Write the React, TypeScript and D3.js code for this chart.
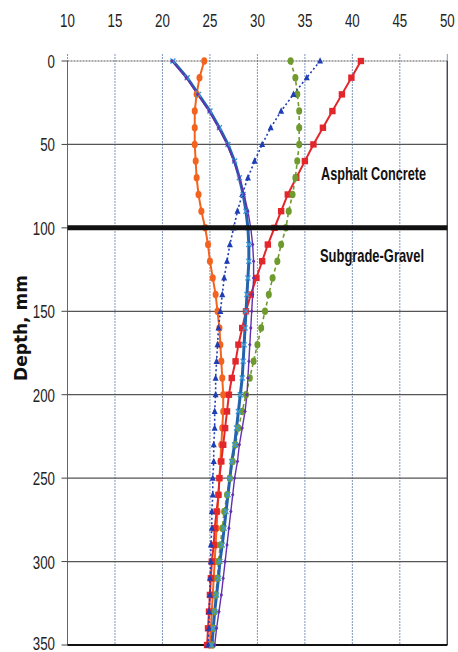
import React, { useLayoutEffect, useRef, useState } from "react";
import * as d3 from "d3";

const depths = [0,10,20,30,40,50,60,70,80,90,100,110,120,130,140,150,160,170,180,190,200,210,220,230,240,250,260,270,280,290,300,310,320,330,340,350];

const redSeries = [40.9,39.9,38.9,37.9,36.9,35.9,35.0,34.1,33.2,32.5,31.8,31.1,30.5,29.9,29.3,28.8,28.4,28.0,27.7,27.3,27.0,26.8,26.6,26.4,26.2,26.0,25.9,25.7,25.5,25.4,25.2,25.1,25.0,24.9,24.8,24.7];
const orangeSeries = [24.4,23.9,23.6,23.4,23.4,23.4,23.5,23.6,23.8,24.1,24.5,24.8,25.0,25.3,25.6,25.8,26.0,26.1,26.2,26.3,26.4,26.4,26.3,26.2,26.1,26.0,25.9,25.8,25.7,25.6,25.5,25.4,25.3,25.2,25.1,25.0];
const greenSeries = [33.5,34.0,34.2,34.4,34.4,34.4,34.2,34.0,33.7,33.3,33.0,32.5,32.1,31.6,31.2,30.8,30.4,30.0,29.6,29.2,28.8,28.4,28.0,27.7,27.4,27.1,26.8,26.5,26.3,26.1,25.9,25.8,25.6,25.5,25.4,25.3];
const blueDashSeries = [36.6,35.2,33.8,32.5,31.4,30.5,29.7,29.0,28.4,27.9,27.5,27.1,26.8,26.5,26.3,26.1,25.9,25.8,25.7,25.6,25.6,25.5,25.5,25.4,25.4,25.3,25.3,25.2,25.2,25.1,25.1,25.0,25.0,24.9,24.9,24.8];
const steelSeries = [21.1,22.6,23.8,25.0,26.0,26.9,27.6,28.1,28.5,28.8,29.0,29.1,29.1,29.0,28.9,28.8,28.7,28.6,28.5,28.4,28.2,28.0,27.8,27.6,27.3,27.1,26.9,26.7,26.5,26.3,26.05,25.9,25.7,25.5,25.35,25.2];
const purpleSeries = [21.0,22.5,23.7,24.9,25.9,26.8,27.5,28.1,28.6,29.0,29.3,29.5,29.6,29.6,29.5,29.4,29.3,29.2,29.1,29.0,28.9,28.7,28.4,28.1,27.9,27.6,27.4,27.2,27.0,26.8,26.6,26.4,26.2,25.95,25.7,25.5];

const xTicks = [10,15,20,25,30,35,40,45,50];
const yTicks = [0,50,100,150,200,250,300,350];
const layerBoundary = 100;
const yTitle = "Depth, mm";
const upperLabel = "Asphalt Concrete";
const lowerLabel = "Subgrade-Gravel";

const W = 458, H = 652;
const x = d3.scaleLinear().domain([10, 50]).range([67.5, 447.3]);
const y = d3.scaleLinear().domain([0, 350]).range([61, 645]);

const font = "'Liberation Sans', Arial, sans-serif";

type Pt = { v: number; d: number };

function pts(vals: number[]): Pt[] {
  return vals.map((v, i) => ({ v, d: depths[i] }));
}

const line = d3.line<Pt>().x(p => x(p.v)).y(p => y(p.d));

// Text condensed horizontally (like a narrow font) to a target width
function NarrowText({ x: tx, y: ty, width, anchor, size, bold, children }:
  { x: number; y: number; width: number; anchor: "start" | "middle" | "end"; size: number; bold?: boolean; children: string }) {
  const ref = useRef<SVGTextElement>(null);
  const [sx, setSx] = useState(0.75);
  useLayoutEffect(() => {
    if (ref.current) {
      const w = ref.current.getComputedTextLength();
      if (w > 0) setSx(width / w);
    }
  }, [width, children]);
  return (
    <text ref={ref} transform={`translate(${tx},${ty}) scale(${sx},1)`} textAnchor={anchor}
      fontFamily={font} fontSize={size} fontWeight={bold ? "bold" : "normal"} fill={bold ? "#111" : "#222"}>{children}</text>
  );
}

function Square({ cx, cy, c }: { cx: number; cy: number; c: string }) {
  return <rect x={cx - 3.2} y={cy - 3.2} width={6.4} height={6.4} fill={c} />;
}
function Circle({ cx, cy, c, r }: { cx: number; cy: number; c: string; r: number }) {
  return <ellipse cx={cx} cy={cy} rx={r} ry={r * 1.25} fill={c} />;
}
function Tri({ cx, cy, c }: { cx: number; cy: number; c: string }) {
  return <path d={`M${cx},${cy - 3.8}L${cx + 3},${cy + 2.6}L${cx - 3},${cy + 2.6}Z`} fill={c} />;
}
function Diamond({ cx, cy, c, s }: { cx: number; cy: number; c: string; s: number }) {
  return <path d={`M${cx},${cy - s}L${cx + s * 0.8},${cy}L${cx},${cy + s}L${cx - s * 0.8},${cy}Z`} fill={c} />;
}
function Cross({ cx, cy, c }: { cx: number; cy: number; c: string }) {
  return <path d={`M${cx - 2.5},${cy - 2.5}L${cx + 2.5},${cy + 2.5}M${cx + 2.5},${cy - 2.5}L${cx - 2.5},${cy + 2.5}`} stroke={c} strokeWidth={1.4} />;
}

export default function App() {
  const red = pts(redSeries);
  const orange = pts(orangeSeries);
  const green = pts(greenSeries);
  const blueD = pts(blueDashSeries);
  const steel = pts(steelSeries);
  const purple = pts(purpleSeries);

  const cRed = "#e3262b";
  const cOrange = "#f4631e";
  const cGreen = "#6f9a2e";
  const cBlue = "#1f3db5";
  const cSteel = "#2463ad";
  const cPurple = "#6430b0";

  return (
    <svg width={W} height={H} style={{ position: "absolute", left: 0, top: 0, background: "#fff" }}>
      {/* vertical grid */}
      {xTicks.map(t => (
        <line key={"vg" + t} x1={x(t)} x2={x(t)} y1={54} y2={y(350)} stroke="#7f95bd" strokeWidth={1} strokeDasharray={t === 50 ? undefined : "2,1"} />
      ))}
      <line x1={x(50)} x2={x(50)} y1={y(0)} y2={y(350)} stroke="#444" strokeWidth={1.3} />
      {/* horizontal grid */}
      {yTicks.map(t => (
        <line key={"hg" + t} x1={x(10)} x2={x(50)} y1={y(t)} y2={y(t)} stroke="#555" strokeWidth={1.2} strokeDasharray={t === 0 ? "2,1" : undefined} />
      ))}
      {/* left axis */}
      <line x1={x(10)} x2={x(10)} y1={y(0)} y2={y(350)} stroke="#666" strokeWidth={1} />
      {yTicks.map(t => (
        <line key={"yt" + t} x1={x(10) - 6} x2={x(10)} y1={y(t)} y2={y(t)} stroke="#444" strokeWidth={1} />
      ))}
      {/* bottom line */}
      <line x1={x(10)} x2={x(50)} y1={y(350)} y2={y(350)} stroke="#111" strokeWidth={2} />
      {/* tick labels */}
      {xTicks.map(t => (
        <NarrowText key={"xl" + t} x={x(t)} y={27} width={String(t).length * 7.4} anchor="middle" size={19}>{String(t)}</NarrowText>
      ))}
      {yTicks.map(t => (
        <NarrowText key={"yl" + t} x={55} y={t === 350 ? 650 : y(t) + 7} width={String(t).length * 7.4} anchor="end" size={19}>{String(t)}</NarrowText>
      ))}
      <text transform={`translate(27,${328}) rotate(-90)`} textAnchor="middle" fontFamily="'DejaVu Sans', Verdana, sans-serif" fontWeight="bold" fontSize={17} fill="#111">{yTitle}</text>

      {/* series lines */}
      <path d={line(orange) || ""} fill="none" stroke={cOrange} strokeWidth={2} />
      <path d={line(red) || ""} fill="none" stroke={cRed} strokeWidth={2} />
      <path d={line(green) || ""} fill="none" stroke={cGreen} strokeWidth={1.6} strokeDasharray="4,3" />
      <path d={line(blueD) || ""} fill="none" stroke={cBlue} strokeWidth={1.6} strokeDasharray="2,2.5" />
      <path d={line(steel) || ""} fill="none" stroke={cSteel} strokeWidth={3} />
      <path d={line(purple) || ""} fill="none" stroke={cPurple} strokeWidth={1.4} />

      {/* markers */}
      {orange.map((p, i) => <Circle key={"o" + i} cx={x(p.v)} cy={y(p.d)} c={cOrange} r={3} />)}
      {red.map((p, i) => <Square key={"r" + i} cx={x(p.v)} cy={y(p.d)} c={cRed} />)}
      {green.map((p, i) => <Circle key={"g" + i} cx={x(p.v)} cy={y(p.d)} c={cGreen} r={3} />)}
      {blueD.map((p, i) => <Tri key={"b" + i} cx={x(p.v)} cy={y(p.d)} c={cBlue} />)}
      {steel.map((p, i) => <Cross key={"s" + i} cx={x(p.v)} cy={y(p.d)} c="#3a9ad9" />)}
      {purple.map((p, i) => <Diamond key={"p" + i} cx={x(p.v)} cy={y(p.d)} c={cPurple} s={2.2} />)}

      {/* layer boundary */}
      <line x1={x(10)} x2={x(50)} y1={y(layerBoundary)} y2={y(layerBoundary)} stroke="#111" strokeWidth={5} />

      <NarrowText x={321} y={180} width={105} anchor="start" size={18} bold>{upperLabel}</NarrowText>
      <NarrowText x={320} y={262} width={104} anchor="start" size={18} bold>{lowerLabel}</NarrowText>
    </svg>
  );
}
